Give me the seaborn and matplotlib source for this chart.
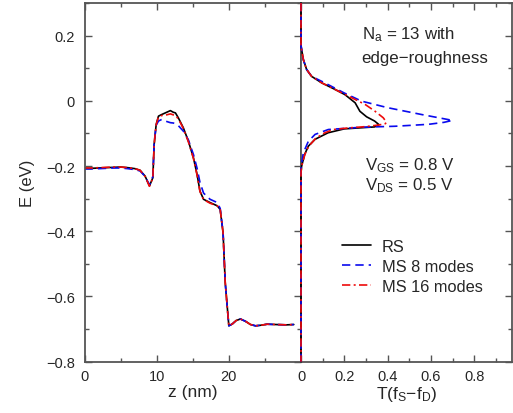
import numpy as np
import pandas as pd
import matplotlib
matplotlib.use("Agg")
import matplotlib.pyplot as plt
import seaborn as sns
from matplotlib.ticker import MultipleLocator, FuncFormatter, NullFormatter

# ---------------- data ----------------
z_nm = [0, 1, 2, 3, 4, 5, 6, 7, 7.7, 8.4, 9.0, 9.47, 9.65, 9.93, 10.25, 10.7, 11.2, 11.9,
        12.3, 12.6, 13.0, 13.7, 14.4, 15.1, 15.6, 16.0, 16.5, 17.4, 18.4, 18.8, 19.2, 19.5,
        20.0, 20.5, 21.0, 21.6, 22.3, 23.0, 23.7, 24.5, 25.3, 26.5, 28.0, 29.0]
E_rs = [-0.207, -0.207, -0.206, -0.205, -0.204, -0.203, -0.205, -0.208, -0.213, -0.231, -0.261,
        -0.236, -0.134, -0.073, -0.047, -0.042, -0.037, -0.030, -0.035, -0.037, -0.052, -0.083,
        -0.124, -0.175, -0.226, -0.277, -0.302, -0.312, -0.322, -0.333, -0.404, -0.557, -0.690,
        -0.684, -0.674, -0.669, -0.676, -0.686, -0.690, -0.688, -0.685, -0.686, -0.687, -0.686]
E_ms8 = [-0.209, -0.209, -0.208, -0.207, -0.206, -0.206, -0.208, -0.211, -0.215, -0.232, -0.258,
         -0.232, -0.130, -0.075, -0.062, -0.057, -0.062, -0.067, -0.068, -0.070, -0.076, -0.093,
         -0.120, -0.165, -0.207, -0.250, -0.283, -0.302, -0.312, -0.330, -0.404, -0.557, -0.690,
         -0.684, -0.674, -0.669, -0.676, -0.686, -0.690, -0.688, -0.685, -0.686, -0.687, -0.686]
E_ms16 = [-0.206, -0.206, -0.205, -0.204, -0.203, -0.203, -0.205, -0.208, -0.213, -0.232, -0.262,
          -0.236, -0.134, -0.073, -0.049, -0.045, -0.044, -0.040, -0.043, -0.045, -0.055, -0.085,
          -0.126, -0.177, -0.228, -0.278, -0.303, -0.314, -0.322, -0.333, -0.404, -0.557, -0.690,
          -0.684, -0.674, -0.669, -0.676, -0.686, -0.690, -0.688, -0.685, -0.686, -0.687, -0.686]

# transmission x (f_S - f_D) versus energy
Et_rs = [0.30, 0.17, 0.157, 0.126, 0.096, 0.075, 0.055, 0.035, 0.019, -0.006, -0.032, -0.049,
         -0.062, -0.073, -0.080, -0.083, -0.086, -0.098, -0.118, -0.139, -0.164, -0.20, -0.22, -0.8]
T_rs = [0, 0, 0.003, 0.011, 0.026, 0.049, 0.096, 0.157, 0.203, 0.25, 0.272, 0.303,
        0.34, 0.36, 0.34, 0.27, 0.20, 0.125, 0.065, 0.034, 0.017, 0.003, 0, 0]
Et_ms8 = [0.30, 0.17, 0.157, 0.126, 0.096, 0.075, 0.055, 0.024, -0.001, -0.021, -0.042, -0.060,
          -0.066, -0.072, -0.078, -0.081, -0.088, -0.103, -0.124, -0.159, -0.19, -0.21, -0.8]
T_ms8 = [0, 0, 0.003, 0.011, 0.026, 0.049, 0.11, 0.20, 0.28, 0.40, 0.557, 0.70,
         0.66, 0.59, 0.434, 0.28, 0.126, 0.065, 0.034, 0.011, 0.003, 0, 0]
Et_ms16 = [0.30, 0.17, 0.157, 0.126, 0.096, 0.075, 0.055, 0.035, 0.014, -0.011, -0.032, -0.052,
           -0.065, -0.070, -0.074, -0.079, -0.083, -0.088, -0.098, -0.115, -0.139, -0.164, -0.20,
           -0.22, -0.8]
T_ms16 = [0, 0, 0.003, 0.011, 0.026, 0.049, 0.096, 0.157, 0.22, 0.296, 0.342, 0.38,
          0.394, 0.39, 0.36, 0.30, 0.22, 0.15, 0.11, 0.068, 0.036, 0.018, 0.003, 0, 0]

labels = ["RS", "MS 8 modes", "MS 16 modes"]
x_ticks_left = [0, 10, 20]
y_ticks = [0.2, 0, -0.2, -0.4, -0.6, -0.8]
x_ticks_right = [0, 0.2, 0.4, 0.6, 0.8]

# ---------------- style ----------------
sns.set_style("ticks")
plt.rcParams["font.family"] = ["Liberation Sans", "DejaVu Sans"]
plt.rcParams["mathtext.default"] = "regular"
plt.rcParams["mathtext.fontset"] = "custom"
plt.rcParams["mathtext.rm"] = "Liberation Sans"

W, H = 513, 414
fig = plt.figure(figsize=(W / 100, H / 100), dpi=100)
x0, x1, x2 = 84.5, 301, 512
ytop, ybot = 4, 362.7
axL = fig.add_axes([x0 / W, 1 - ybot / H, (x1 - x0) / W, (ybot - ytop) / H])
axR = fig.add_axes([x1 / W, 1 - ybot / H, (x2 - x1) / W, (ybot - ytop) / H])

styles = [dict(color="black", lw=1.2),
          dict(color="#0a0aee", lw=1.2, dashes=(5, 3)),
          dict(color="#ee0a0a", lw=1.2, dashes=(5, 2, 1.2, 2))]

prof = [E_rs, E_ms8, E_ms16]
for E, st, lab in zip(prof, styles, labels):
    df = pd.DataFrame({"z": z_nm, "E": E})
    kw = dict(st)
    d = kw.pop("dashes", None)
    sns.lineplot(data=df, x="z", y="E", ax=axL, color=kw["color"], lw=kw["lw"],
                 estimator=None, sort=True)
    if d is not None:
        axL.lines[-1].set_dashes(d)

trans = [(Et_rs, T_rs), (Et_ms8, T_ms8), (Et_ms16, T_ms16)]
handles = []
for (E, T), st, lab in zip(trans, styles, labels):
    df = pd.DataFrame({"T": T, "E": E})
    kw = dict(st)
    d = kw.pop("dashes", None)
    sns.lineplot(data=df, x="T", y="E", ax=axR, color=kw["color"], lw=kw["lw"],
                 estimator=None, sort=False)
    ln = axR.lines[-1]
    if d is not None:
        ln.set_dashes(d)
    ln.set_label(lab)
    ln.set_clip_on(False)
    ln.set_zorder(3)
    handles.append(ln)

fmt = FuncFormatter(lambda v, p: f"{v:g}".replace("-", "\u2212"))
spine_c = "#555555"
for ax in (axL, axR):
    ax.set_ylim(-0.8, 0.3)
    ax.yaxis.set_major_locator(MultipleLocator(0.2))
    ax.yaxis.set_minor_locator(MultipleLocator(0.1))
    ax.tick_params(which="both", direction="in", top=True, right=True, left=True, bottom=True,
                   color=spine_c, labelsize=10.5)
    ax.tick_params(which="major", length=5, width=1)
    ax.tick_params(which="minor", length=3, width=1)
    for s in ax.spines.values():
        s.set_color(spine_c)
        s.set_linewidth(1.3)
    ax.set_facecolor("white")

axL.set_xlim(0, 30)
axL.set_xticks(x_ticks_left)
axL.xaxis.set_minor_locator(MultipleLocator(5))
axL.set_yticks(y_ticks)
axL.yaxis.set_major_formatter(fmt)
axL.xaxis.set_major_formatter(fmt)
axL.tick_params(axis="y", pad=7)
axL.tick_params(axis="x", pad=5)
axL.set_xlabel("z (nm)", fontsize=12.5, labelpad=1)
axL.set_ylabel("E (eV)", fontsize=12, labelpad=8)

axR.set_xlim(0, (x2 - x1) / 216.5)
axR.set_xticks(x_ticks_right)
axR.xaxis.set_minor_locator(MultipleLocator(0.1))
axR.xaxis.set_major_formatter(fmt)
axR.yaxis.set_major_formatter(NullFormatter())
axR.tick_params(axis="y", left=False, which="both")
axR.tick_params(axis="x", pad=5)
axR.set_xlabel("T(f$_S$\u2212f$_D$)", fontsize=12.5, labelpad=1)
axR.set_ylabel("")

fs_txt = 12.2
fig.text(361.7 / W, 1 - 39.5 / H, "N$_a$ = 13 with", fontsize=fs_txt, ha="left", va="baseline")
fig.text(361.7 / W, 1 - 63 / H, "edge\u2212roughness", fontsize=fs_txt, ha="left", va="baseline")
fig.text(365 / W, 1 - 170 / H, "V$_{GS}$ = 0.8 V", fontsize=fs_txt, ha="left", va="baseline")
fig.text(365 / W, 1 - 190 / H, "V$_{DS}$ = 0.5 V", fontsize=fs_txt, ha="left", va="baseline")

axR.legend(handles=handles, labels=labels, loc="upper left",
           bbox_to_anchor=(342 / W, 1 - 240 / H), bbox_transform=fig.transFigure,
           frameon=False, fontsize=11.8, borderpad=0, borderaxespad=0,
           handlelength=1.75, handletextpad=0.67, labelspacing=0.3)

fig.savefig("out.png", dpi=100, facecolor="white")
